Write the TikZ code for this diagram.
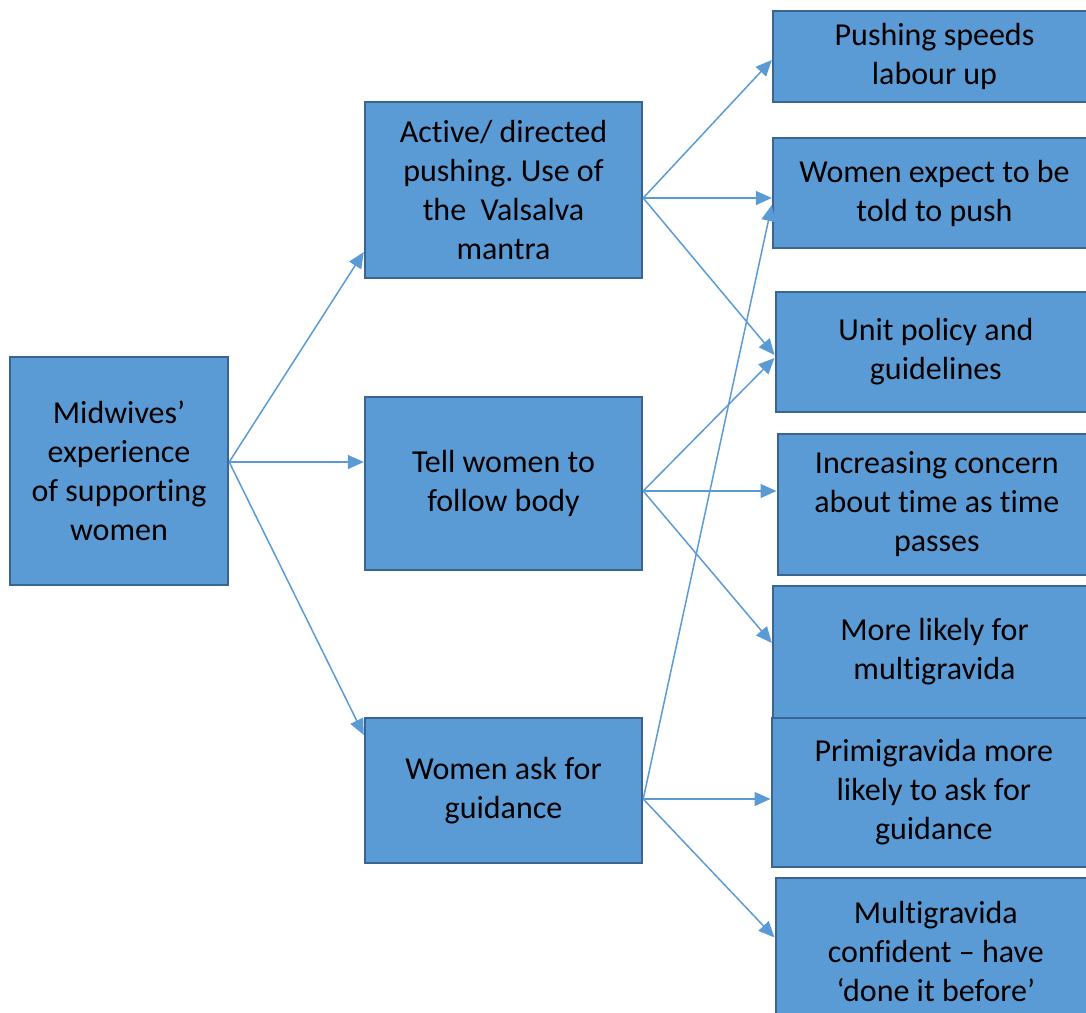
\documentclass[tikz,border=0pt]{standalone}
\usepackage{fontspec}
\setmainfont{Carlito}[Ligatures={TeX,NoCommon}]
\usetikzlibrary{arrows.meta}
\frenchspacing
\definecolor{boxblue}{HTML}{5B9BD5}
\definecolor{boxedge}{HTML}{3A6592}
\tikzset{
  box/.style={draw=boxedge, line width=1.2pt, fill=boxblue, align=center,
    inner sep=0pt, font=\fontsize{16}{19.5}\selectfont},
  arr/.style={draw=boxblue, line width=0.75pt, -{Triangle[length=8pt,width=7pt]}}
}
\begin{document}
\begin{tikzpicture}[x=0.5pt, y=-0.5pt]
        \useasboundingbox (0,0) rectangle (1086,1012);
        \clip (0,0) rectangle (1086,1012);

        % 左边的方框
        \node[box, minimum width=109pt, minimum height=114pt] (root) at (119,471)
            {Midwives’\\experience\\of supporting\\women};

        % 中间三个方框
        \node[box, minimum width=138.5pt, minimum height=88pt] (mid1) at (503.5,190)
            {Active/ directed\\pushing. Use of\\the~ Valsalva\\mantra};
        \node[box, minimum width=138.5pt, minimum height=86.5pt] (mid2) at (503.5,483.5)
            {Tell women to\\follow body};
        \node[box, minimum width=138.5pt, minimum height=72.5pt] (mid3) at (503.5,790.5)
            {Women ask for\\guidance};

        % 右边的方框
        \node[box, minimum width=161.5pt, minimum height=45.5pt] (r1) at (934.5,56.5)
            {Pushing speeds\\labour up};
        \node[box, minimum width=161.5pt, minimum height=55pt] (r2) at (934.5,193)
            {Women expect to be\\told to push};
        \node[box, minimum width=160.15pt, minimum height=60pt] (r3) at (935.85,352)
            {Unit policy and\\guidelines};
        \node[box, minimum width=159.15pt, minimum height=70.5pt] (r4) at (936.85,504.5)
            {Increasing concern\\about time as time\\passes};
        \node[box, minimum width=161.5pt, minimum height=66pt] (r5) at (934.5,652)
            {More likely for\\multigravida};
        \node[box, minimum width=162.15pt, minimum height=74.5pt] (r6) at (933.85,792.5)
            {Primigravida more\\likely to ask for\\guidance};
        \node[box, minimum width=160.15pt, minimum height=73.5pt] (r7) at (935.85,951.5)
            {Multigravida\\confident – have\\‘done it before’};

        % 箭头
        \draw[arr] ([yshift=4.5pt]root.east) -- ([yshift=-31pt]mid1.west);
        \draw[arr] ([yshift=4.5pt]root.east) -- ([yshift=10.75pt]mid2.west);
        \draw[arr] ([yshift=4.5pt]root.east) -- ([yshift=27.75pt]mid3.west);

        \draw[arr] ([yshift=-4pt]mid1.east) -- ([yshift=-1.75pt]r1.west);
        \draw[arr] ([yshift=-4pt]mid1.east) -- ([yshift=-2.5pt]r2.west);
        \draw[arr] ([yshift=-4pt]mid1.east) -- ([yshift=-1.5pt]r3.west);

        \draw[arr] ([yshift=-3.75pt]mid2.east) -- ([yshift=-3pt]r3.west);
        \draw[arr] ([yshift=-3.75pt]mid2.east) -- ([yshift=6.75pt]r4.west);
        \draw[arr] ([yshift=-3.75pt]mid2.east) -- ([yshift=4.5pt]r5.west);

        \draw[arr] ([yshift=-4.25pt]mid3.east) -- ([yshift=-6pt]r2.west);
        \draw[arr] ([yshift=-4.25pt]mid3.east) -- ([yshift=-3.25pt]r6.west);
        \draw[arr] ([yshift=-4.25pt]mid3.east) -- ([yshift=7pt]r7.west);
    \end{tikzpicture}
\end{document}
